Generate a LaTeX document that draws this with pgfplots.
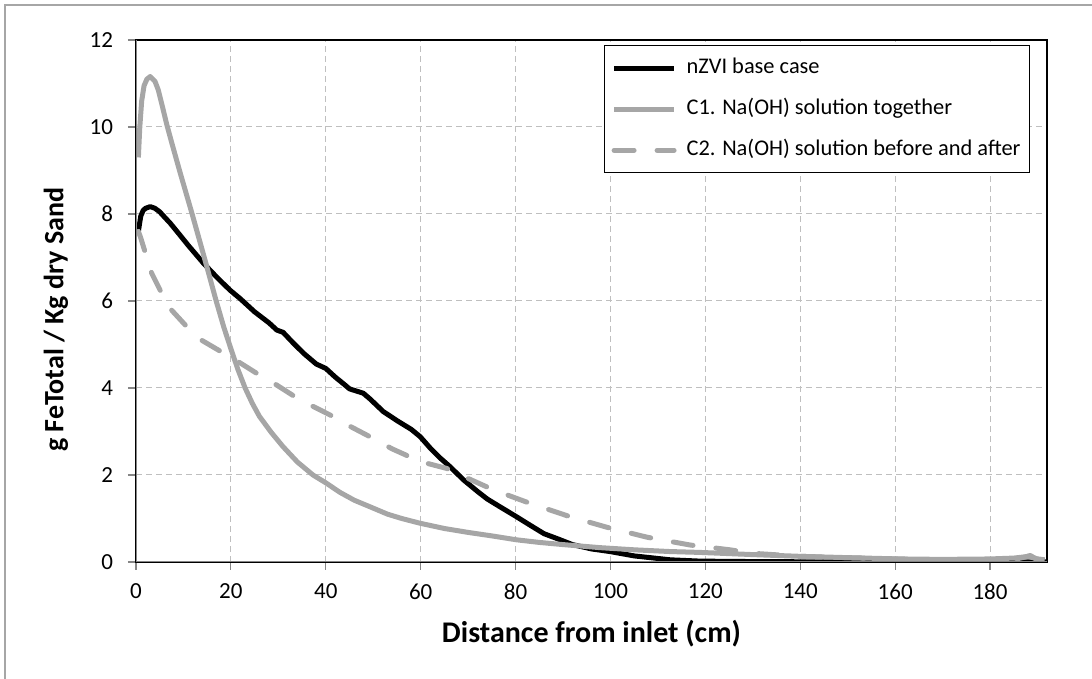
\documentclass[border=0pt]{standalone}
\usepackage{fontspec}
\setmainfont{Carlito}
\usepackage{pgfplots}
\pgfplotsset{compat=1.18}
\definecolor{lgray}{HTML}{A6A6A6}
\definecolor{axgray}{HTML}{868686}
\definecolor{gridgray}{HTML}{BFBFBF}
\begin{document}
\begin{tikzpicture}
\path[use as bounding box] (0,0) rectangle (546pt,339.5pt);
\draw[color=lgray, line width=0.8pt] (2.5pt,0pt) -- (2.5pt,337pt) -- (546pt,337pt);
\begin{axis}[
  at={(68pt,58.5pt)}, anchor=south west,
  scale only axis, width=455.5pt, height=261pt,
  xmin=0, xmax=192, ymin=0, ymax=12,
  xtick={0,20,...,180}, ytick={0,2,...,12},
  /pgf/number format/assume math mode=true,
  tick label style={font=\fontsize{11.5}{13}\selectfont, text=black},
  xticklabel style={yshift=-3.5pt},
  yticklabel style={xshift=-4pt},
  tick align=outside, major tick length=4pt,
  tick style={color=axgray, line width=0.6pt},
  xtick pos=bottom, ytick pos=left,
  axis line style={black, line width=0.6pt},
  grid=major,
  major grid style={color=gridgray, line width=0.5pt, dash pattern=on 3pt off 2pt},
  xlabel={Distance from inlet (cm)},
  ylabel={g FeTotal / Kg dry Sand},
  xlabel style={font=\bfseries\fontsize{15}{18}\selectfont, at={(axis description cs:0.5,-0.138)}, anchor=center},
  ylabel style={font=\bfseries\fontsize{14}{17}\selectfont, at={(axis description cs:-0.088,0.464)}, anchor=center},
  legend style={at={(0.5137,0.990)}, anchor=north west, draw=black, line width=0.6pt,
    font=\fontsize{11.2}{13}\selectfont, inner xsep=3.5pt, inner ysep=5pt,
    nodes={inner sep=1pt, text height=8pt, text depth=2.5pt},
    row sep=8pt, /tikz/every odd column/.append style={column sep=4pt}},
  legend cell align=left,
  legend image code/.code={\draw[#1] (0pt,0pt) -- (30pt,0pt);},
]
\addplot[black, line width=2.5pt, line join=round] coordinates {
(0.5,7.6)(1,7.95)(1.5,8.08)(2,8.13)(3,8.17)(4,8.13)(5,8.05)(6,7.93)(7.2,7.79)(9,7.55)(11,7.28)(14.2,6.87)(17,6.55)(19.8,6.25)(22,6.05)(25,5.75)(28,5.5)(29.7,5.33)(31,5.28)(33,5.05)(35.3,4.8)(38,4.55)(40,4.45)(42,4.25)(43.7,4.1)(45,3.98)(47.9,3.88)(49.3,3.75)(52.1,3.46)(55,3.25)(58,3.05)(59.9,2.88)(62,2.62)(64,2.4)(66.2,2.19)(69,1.89)(72,1.62)(74,1.45)(76.7,1.27)(80.2,1.04)(83,0.85)(86,0.65)(88.7,0.54)(92,0.4)(96,0.3)(99.9,0.24)(105,0.14)(112.6,0.05)(118.9,0.02)(130,0.01)(150,0.0)(192,0.0)
};
\addlegendentry{nZVI base case}
\addplot[lgray, line width=2.5pt, line join=round] coordinates {
(0.5,9.3)(0.8,10.0)(1.2,10.6)(1.7,10.95)(2.3,11.1)(3,11.16)(4,11.05)(4.7,10.85)(5.5,10.5)(6.5,10.05)(7.5,9.65)(9.3,8.95)(11.7,8.05)(13.5,7.35)(14.9,6.8)(16.9,6.0)(18.5,5.4)(20,4.9)(21.5,4.42)(23,4.0)(24.5,3.65)(26,3.35)(28.5,2.98)(31,2.65)(34,2.3)(37.3,2.0)(40,1.82)(43,1.6)(46,1.42)(49.3,1.27)(53,1.1)(56,1.0)(59.9,0.89)(65,0.77)(70,0.68)(75,0.6)(80.2,0.51)(85,0.45)(90,0.4)(97.8,0.33)(105,0.28)(112.6,0.24)(118.9,0.22)(130,0.17)(140,0.13)(150,0.1)(161,0.07)(170,0.06)(180,0.07)(185,0.09)(187.5,0.12)(188.5,0.15)(189.5,0.08)(191.5,0.05)
};
\addlegendentry{C1. Na(OH) solution together}
\addplot[lgray, line width=2.5pt, line cap=round, dash pattern=on 10pt off 11.5pt] coordinates {
(0.5,7.6)(1,7.45)(1.9,7.13)(3.3,6.64)(5.4,6.18)(7.5,5.79)(10.7,5.41)(13.8,5.1)(17.7,4.85)(21.9,4.58)(25.4,4.34)(28.9,4.12)(33.2,3.82)(36.7,3.61)(40.9,3.38)(43.7,3.2)(49.3,2.88)(54,2.6)(59.9,2.31)(65.5,2.15)(70,1.92)(75.3,1.66)(83,1.35)(91.5,1.04)(99.2,0.8)(107.7,0.57)(116.8,0.39)(125.2,0.28)(130,0.2)(140,0.13)(150,0.1)(160,0.07)(170,0.05)(180,0.05)(186,0.08)(188,0.13)(189,0.1)(191.5,0.04)
};
\addlegendentry{C2. Na(OH) solution before and after}
\draw[axgray, line width=0.6pt] (rel axis cs:0,1) -- (rel axis cs:0,0) -- (rel axis cs:1,0);
\end{axis}
\end{tikzpicture}
\end{document}
